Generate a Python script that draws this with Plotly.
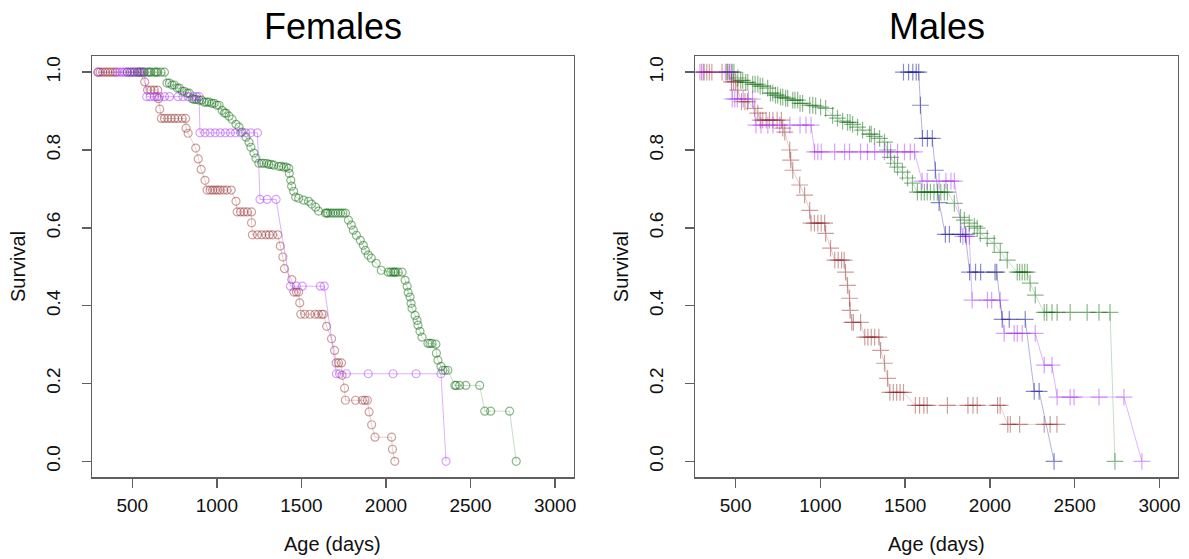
import plotly.graph_objects as go

# ---------------- data (age in days, Kaplan-Meier survival) ----------------
# each series: list of [survival level, [ages of points at that level]]
F_RED = [
    [1.0, [295, 310, 325, 340, 355, 370, 385, 400, 540]],
    [0.975, [573]],
    [0.954, [590, 610, 630, 650]],
    [0.932, [655]],
    [0.905, [662]],
    [0.881, [672, 690, 710, 730, 750, 770, 795, 815]],
    [0.856, [818]],
    [0.843, [830]],
    [0.805, [875]],
    [0.777, [890]],
    [0.750, [907]],
    [0.722, [930]],
    [0.697, [942, 960, 975, 990, 1005, 1020, 1040, 1060, 1085]],
    [0.668, [1113]],
    [0.641, [1120, 1140, 1160, 1180, 1205]],
    [0.613, [1205]],
    [0.582, [1210, 1240, 1265, 1290, 1310, 1330, 1360]],
    [0.553, [1375]],
    [0.525, [1390]],
    [0.495, [1400]],
    [0.467, [1443]],
    [0.435, [1455, 1470, 1484]],
    [0.407, [1490]],
    [0.378, [1496, 1520, 1550, 1580, 1600, 1620, 1630]],
    [0.347, [1649]],
    [0.315, [1678]],
    [0.285, [1696]],
    [0.253, [1705, 1720, 1737]],
    [0.221, [1740]],
    [0.188, [1755]],
    [0.157, [1760, 1820, 1860, 1875, 1890]],
    [0.127, [1900]],
    [0.094, [1915]],
    [0.062, [1935, 2033]],
    [0.031, [2038]],
    [0.0, [2052]],
]

F_GREEN = [
    [1.0, [470, 490, 510, 530, 550, 560, 570, 590, 600, 610, 630, 640, 650,
           670, 690]],
    [0.972, [705, 719]], [0.967, [735, 748]], [0.959, [765, 778]],
    [0.951, [795, 807]], [0.946, [825, 837]], [0.932, [854]],
    [0.930, [866, 878]], [0.928, [895, 910]],
    [0.923, [925, 940, 954]], [0.920, [970, 984]], [0.915, [1000, 1013]],
    [0.902, [1031]], [0.895, [1045, 1054]], [0.887, [1072]], [0.879, [1090]],
    [0.866, [1113]], [0.859, [1131]], [0.846, [1148]], [0.833, [1172]],
    [0.820, [1190]], [0.807, [1201]], [0.792, [1219]], [0.779, [1231]],
    [0.766, [1248, 1265, 1278, 1295]], [0.763, [1307, 1322]], [0.761, [1337]],
    [0.758, [1366, 1380]], [0.756, [1395, 1410]], [0.753, [1425]],
    [0.740, [1428]], [0.722, [1437]], [0.707, [1442]], [0.694, [1454]],
    [0.679, [1466]], [0.676, [1484]], [0.671, [1513]], [0.668, [1542]],
    [0.661, [1560]], [0.653, [1584]], [0.643, [1601]],
    [0.638, [1642, 1650, 1657, 1672, 1686, 1701, 1716, 1731, 1745, 1760]],
    [0.620, [1778]], [0.607, [1795]], [0.594, [1807]], [0.581, [1825]],
    [0.568, [1848]], [0.555, [1866]], [0.542, [1878]], [0.530, [1895]],
    [0.522, [1913]], [0.509, [1942]], [0.491, [1972]],
    [0.486, [2013, 2028, 2042, 2050, 2057, 2072, 2095]],
    [0.465, [2113]], [0.450, [2125]], [0.434, [2131]], [0.422, [2142]],
    [0.406, [2148]], [0.393, [2154]], [0.375, [2172]], [0.362, [2184]],
    [0.350, [2189]], [0.334, [2201]], [0.319, [2213]],
    [0.303, [2248, 2260, 2272]], [0.301, [2295]], [0.278, [2298]],
    [0.260, [2307]], [0.244, [2325]], [0.234, [2336, 2350, 2366]],
    [0.195, [2407, 2415, 2436, 2472, 2554]],
    [0.129, [2584, 2619, 2731]],
    [0.0, [2770]],
]

F_PURPLE = [
    [1.0, [300, 410, 425, 440, 455, 470, 485, 500, 515, 530, 545, 570]],
    [0.937, [585, 605, 630, 645, 660, 690, 720, 770, 800, 830, 860, 880, 895]],
    [0.844, [900, 930, 960, 990, 1020, 1050, 1080, 1110, 1140, 1170, 1200, 1240]],
    [0.673, [1255, 1297, 1350]],
    [0.450, [1435, 1470, 1505, 1612, 1635]],
    [0.225, [1707, 1725, 1766, 1895, 2042, 2178, 2325]],
    [0.0, [2355]],
]

M_RED = [
    [1.0, [300, 315, 330, 345, 360, 420, 450]],
    [0.975, [475, 488, 500]],
    [0.954, [513]],
    [0.924, [535, 555, 570]],
    [0.907, [613]],
    [0.895, [631]],
    [0.877, [645, 660, 680, 700, 720, 745, 770]],
    [0.856, [778]],
    [0.846, [790]],
    [0.800, [819]],
    [0.774, [825]],
    [0.748, [837]],
    [0.710, [878]],
    [0.684, [907]],
    [0.645, [937]],
    [0.612, [945, 965, 985, 1005, 1025]],
    [0.586, [1031]],
    [0.548, [1060]],
    [0.517, [1085, 1105, 1125, 1140]],
    [0.486, [1148]],
    [0.452, [1160]],
    [0.419, [1172]],
    [0.388, [1175]],
    [0.357, [1185, 1195, 1237]],
    [0.319, [1262, 1280, 1300, 1320, 1345]],
    [0.285, [1355]],
    [0.252, [1378]],
    [0.213, [1396]],
    [0.177, [1410, 1430, 1450, 1470, 1490]],
    [0.144, [1560, 1585, 1610, 1630, 1749, 1870, 1900, 1925, 2045, 2060]],
    [0.095, [2105, 2120, 2175, 2320, 2355, 2395]],
]

M_GREEN = [
    [1.0, [450, 465, 480, 490]],
    [0.985, [513]], [0.979, [530, 542]], [0.974, [560, 572]],
    [0.969, [601, 615, 631]], [0.964, [645, 660]], [0.959, [689]],
    [0.946, [705, 719]], [0.941, [735, 748]], [0.936, [765, 778]],
    [0.933, [795, 807]], [0.928, [837, 850, 866]], [0.920, [880, 895]],
    [0.915, [937, 955]], [0.913, [972]], [0.910, [1001]], [0.907, [1031]],
    [0.889, [1072]], [0.882, [1101]], [0.874, [1131]], [0.871, [1160, 1175]],
    [0.866, [1190]], [0.859, [1219]], [0.851, [1249]], [0.841, [1290, 1300]],
    [0.835, [1319]], [0.830, [1349]], [0.820, [1378]], [0.800, [1396]],
    [0.781, [1414]], [0.766, [1437]], [0.756, [1455]], [0.743, [1484]],
    [0.728, [1514]], [0.715, [1543]],
    [0.692, [1572, 1595, 1613, 1630, 1649, 1670, 1690, 1710, 1731, 1749]],
    [0.663, [1790]], [0.627, [1826]], [0.620, [1849]], [0.612, [1878]],
    [0.604, [1908]], [0.599, [1925]], [0.586, [1943]], [0.573, [1984]],
    [0.560, [2025]], [0.537, [2061]], [0.517, [2102]],
    [0.486, [2161, 2175, 2190, 2205, 2220]],
    [0.458, [2237]], [0.427, [2267]],
    [0.383, [2320, 2335, 2366, 2396, 2473, 2573, 2643, 2708]],
    [0.0, [2737]],
]

M_PURPLE = [
    [1.0, [290, 310, 440, 460, 475]],
    [0.931, [480, 495, 510, 545, 575, 600]],
    [0.864, [620, 650, 690, 720, 760, 820, 880, 915, 945]],
    [0.795, [966, 985, 1005, 1084, 1143, 1172, 1237, 1278, 1320, 1378, 1414,
             1455, 1496, 1530, 1555]],
    [0.720, [1600, 1630, 1700, 1740, 1770, 1790]],
    [0.578, [1840, 1860, 1878]],
    [0.414, [1895, 1985, 2010, 2060]],
    [0.329, [2084, 2143, 2161, 2190, 2267]],
    [0.247, [2320, 2366]],
    [0.165, [2396, 2473, 2496, 2643, 2790]],
    [0.0, [2896]],
]

M_BLUE = [
    [1.0, [1490, 1520, 1545, 1565, 1580]],
    [0.915, [1590]],
    [0.830, [1602, 1631, 1660]],
    [0.748, [1678]],
    [0.665, [1700]],
    [0.583, [1737, 1761, 1826, 1855]],
    [0.486, [1880, 1915, 1945, 2030, 2040]],
    [0.365, [2072, 2114, 2208]],
    [0.180, [2261, 2290]],
    [0.0, [2378]],
]

X_TICKS = [500, 1000, 1500, 2000, 2500, 3000]
X_LABELS = ["500", "1000", "1500", "2000", "2500", "3000"]
Y_TICKS = [0.0, 0.2, 0.4, 0.6, 0.8, 1.0]
Y_LABELS = ["0.0", "0.2", "0.4", "0.6", "0.8", "1.0"]

PANEL_TITLES = ["Females", "Males"]
X_TITLE = "Age (days)"
Y_TITLE = "Survival"

# ---------------- styling ----------------
W, H = 1189, 559
FONT = "Liberation Sans, Arial, sans-serif"
RED = (139, 26, 26)
GREEN = (0, 100, 0)
PURPLE = (160, 32, 240)
BLUE = (20, 20, 150)


def flatten(groups):
    ages, surv = [], []
    for s, lst in groups:
        for a in lst:
            ages.append(a)
            surv.append(s)
    return ages, surv


def rgba(c, a):
    return "rgba(%d,%d,%d,%.2f)" % (c[0], c[1], c[2], a)


fig = go.Figure()


def add(groups, col, a_mark, a_line, symbol, size, xa, ya):
    ages, surv = flatten(groups)
    fig.add_trace(go.Scatter(
        x=ages, y=surv, mode="lines+markers", xaxis=xa, yaxis=ya,
        line=dict(color=rgba(col, a_line), width=1),
        marker=dict(symbol=symbol, size=size, color=rgba(col, a_mark),
                    line=dict(width=1.2)),
        showlegend=False, hoverinfo="skip"))


add(F_RED, RED, 0.42, 0.22, "circle-open", 8, "x", "y")
add(F_GREEN, GREEN, 0.46, 0.22, "circle-open", 8, "x", "y")
add(F_PURPLE, PURPLE, 0.42, 0.35, "circle-open", 8, "x", "y")

add(M_RED, RED, 0.42, 0.22, "cross-thin-open", 12, "x2", "y2")
add(M_GREEN, GREEN, 0.46, 0.22, "cross-thin-open", 12, "x2", "y2")
add(M_PURPLE, PURPLE, 0.42, 0.33, "cross-thin-open", 12, "x2", "y2")
add(M_BLUE, BLUE, 0.50, 0.32, "cross-thin-open", 12, "x2", "y2")

# plot boxes in window pixels
LEFT_BOX = (92.3, 575.0)
RIGHT_BOX = (697.0, 1181.0)
TOP, BOTTOM = 56.4, 477.1


def px(x):
    return x / W


def py(y):
    return 1 - y / H


AX = dict(showgrid=False, zeroline=False, showline=True, mirror=True,
          linecolor="#5f5f5f", linewidth=1.4, ticks="outside", ticklen=9,
          tickwidth=1.4, tickcolor="#5f5f5f",
          tickfont=dict(family=FONT, size=19, color="#111111"))

ydom = [py(BOTTOM), py(TOP)]
XR = [262, 3109]
YR = [-0.0405, 1.0405]

fig.update_layout(
    width=W, height=H,
    margin=dict(l=0, r=0, t=0, b=0),
    paper_bgcolor="white", plot_bgcolor="white",
    xaxis=dict(AX, domain=[px(LEFT_BOX[0]), px(LEFT_BOX[1])], range=XR,
               tickvals=X_TICKS, ticktext=X_LABELS, anchor="y",
               ticklabelstandoff=2),
    yaxis=dict(AX, domain=ydom, range=YR, tickvals=Y_TICKS, ticktext=Y_LABELS,
               tickangle=-90, anchor="x", ticklabelstandoff=14),
    xaxis2=dict(AX, domain=[px(RIGHT_BOX[0]), px(RIGHT_BOX[1])], range=XR,
                tickvals=X_TICKS, ticktext=X_LABELS, anchor="y2",
                ticklabelstandoff=2),
    yaxis2=dict(AX, domain=ydom, range=YR, tickvals=Y_TICKS, ticktext=Y_LABELS,
                tickangle=-90, anchor="x2", ticklabelstandoff=14),
)

ann = []
for i, (x0, x1) in enumerate([LEFT_BOX, RIGHT_BOX]):
    cx = px((x0 + x1) / 2)
    ann.append(dict(text=PANEL_TITLES[i], x=cx, y=py(27), xref="paper",
                    yref="paper", showarrow=False, xanchor="center",
                    yanchor="middle",
                    font=dict(family=FONT, size=36, color="#000000")))
    ann.append(dict(text=X_TITLE, x=cx, y=py(544), xref="paper",
                    yref="paper", showarrow=False, xanchor="center",
                    yanchor="middle",
                    font=dict(family=FONT, size=20, color="#111111")))
    ann.append(dict(text=Y_TITLE, x=px(x0 - 75), y=py((TOP + BOTTOM) / 2),
                    xref="paper", yref="paper", showarrow=False,
                    xanchor="center", yanchor="middle", textangle=-90,
                    font=dict(family=FONT, size=20, color="#111111")))
fig.update_layout(annotations=ann)

# remove the page's default body margin so the figure fills the window
fig.write_html("out.html",
               config={"displayModeBar": False, "staticPlot": True},
               post_script="document.body.style.margin='0';"
                           "document.body.style.overflow='hidden';")
